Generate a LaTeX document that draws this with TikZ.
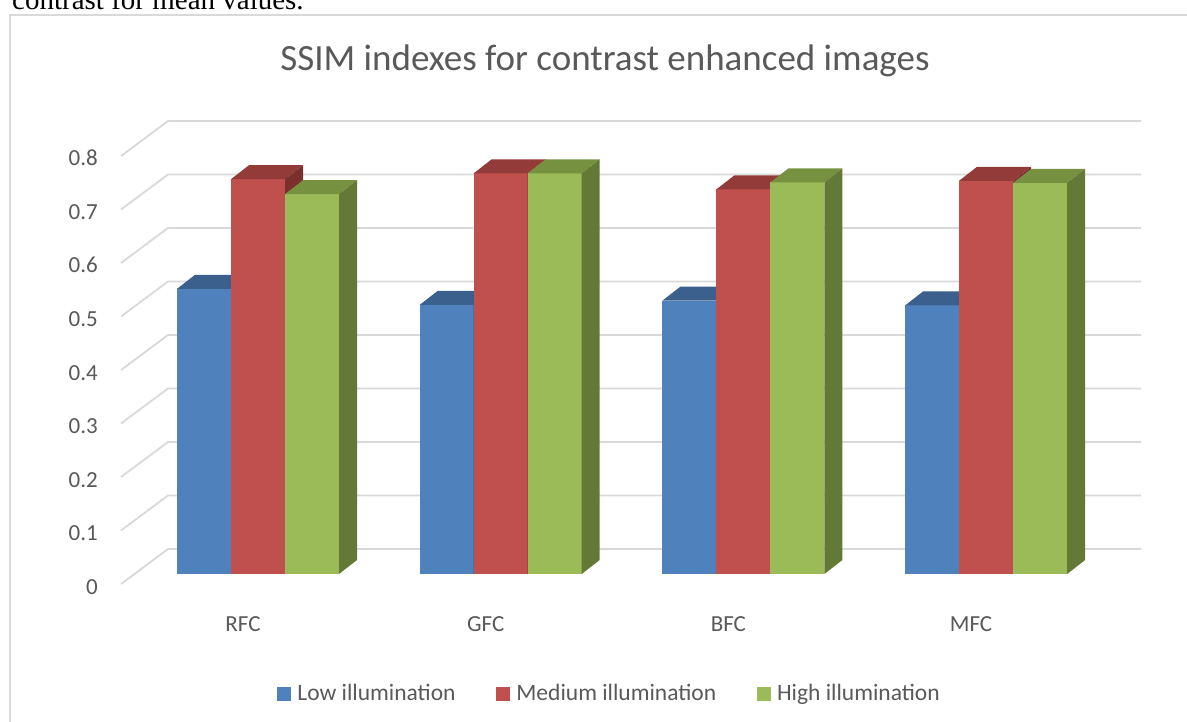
\documentclass[tikz,border=0pt]{standalone}
\usepackage{fontspec}
\setmainfont{Carlito}
\newfontfamily\bodyserif{Liberation Serif}
\usepackage{tikz}
\usetikzlibrary{positioning}
\definecolor{mygrid}{RGB}{217,217,217}
\definecolor{mytext}{RGB}{89,89,89}
\definecolor{blufront}{RGB}{79,129,189}
\definecolor{blutop}{RGB}{60,96,141}
\definecolor{bluside}{RGB}{55,89,131}
\definecolor{redfront}{RGB}{192,80,77}
\definecolor{redtop}{RGB}{147,59,57}
\definecolor{redside}{RGB}{124,48,46}
\definecolor{grnfront}{RGB}{155,187,89}
\definecolor{grntop}{RGB}{118,145,64}
\definecolor{grnside}{RGB}{101,121,55}
\tikzset{
  gridline/.style={draw=mygrid, line width=1.8pt},
  frameline/.style={draw=mygrid, line width=2.5pt},
  ticklabel/.style={anchor=base east, inner sep=0pt, text=mytext,
    font=\fontsize{23}{28}\selectfont},
  catlabel/.style={anchor=base, inner sep=0pt, text=mytext,
    font=\fontsize{23}{28}\selectfont},
  legtext/.style={inner sep=0pt, text=mytext, text height=17.6pt, text depth=4.7pt,
    font=\fontsize{23.5}{28}\selectfont},
  legkey/.style={rectangle, minimum size=14pt, inner sep=0pt},
  charttitle/.style={anchor=base, inner sep=0pt, text=mytext,
    font=\fontsize{37}{44}\selectfont}
}
% one 3-D column: left x, value, front/top/side colours
\newcommand{\drawbar}[5]{%
  \pgfmathsetmacro{\bx}{#1}%
  \pgfmathsetmacro{\bt}{574-#2*535}%
  \fill[#3] (\bx,574) rectangle ({\bx+54},\bt);
  \fill[#4] (\bx,\bt) -- ++(18,-14) -- ++(54,0) -- ++(-18,14) -- cycle;
  \fill[#5] ({\bx+54},574) -- ({\bx+54},\bt) -- ++(18,-14) -- ({\bx+72},560) -- cycle;
}

\begin{document}
\begin{tikzpicture}[x=1pt, y=-1pt]
  \clip (0,0) rectangle (1187,722);
  \fill[white] (0,0) rectangle (1187,722);

  \node[anchor=base west, inner sep=0pt, font=\bodyserif\fontsize{29}{34}\selectfont]
    (prevline) at (12,10) {contrast for mean values.};
  \draw[frameline] (10,740) -- (10,15) -- (1200,15);

  \node[charttitle] (title) at (605,71) {SSIM indexes for contrast enhanced images};

  % back wall and side grid
  \foreach \v in {0,...,8}{
    \pgfmathsetmacro{\gy}{549-53.5*\v}
    \draw[gridline] (121,\gy+35) -- (168,\gy) -- (1141,\gy);
    \node[ticklabel] (tick\v) at (98,\gy+45) {\ifnum\v=0 0\else 0.\v\fi};
  }

  % columns
  \foreach \cat/\lo/\md/\hi [count=\i from 0] in
    {RFC/0.533/0.738/0.710, GFC/0.503/0.749/0.749,
     BFC/0.511/0.719/0.732, MFC/0.502/0.735/0.731}{
    \pgfmathsetmacro{\gx}{177+242.7*\i}
    \drawbar{\gx}{\lo}{blufront}{blutop}{bluside}
    \drawbar{\gx+54}{\md}{redfront}{redtop}{redside}
    \drawbar{\gx+108}{\hi}{grnfront}{grntop}{grnside}
    \node[catlabel] (cat\cat) at (\gx+66,631) {\cat};
  }

  % legend
  \node[legkey, fill=blufront] (keylow) at (284,694) {};
  \node[legtext, right=6pt of keylow] (leglow) {Low illumination};
  \node[legkey, fill=redfront, right=40pt of leglow] (keymed) {};
  \node[legtext, right=6pt of keymed] (legmed) {Medium illumination};
  \node[legkey, fill=grnfront, right=40pt of legmed] (keyhigh) {};
  \node[legtext, right=6pt of keyhigh] (leghigh) {High illumination};
\end{tikzpicture}
\end{document}
